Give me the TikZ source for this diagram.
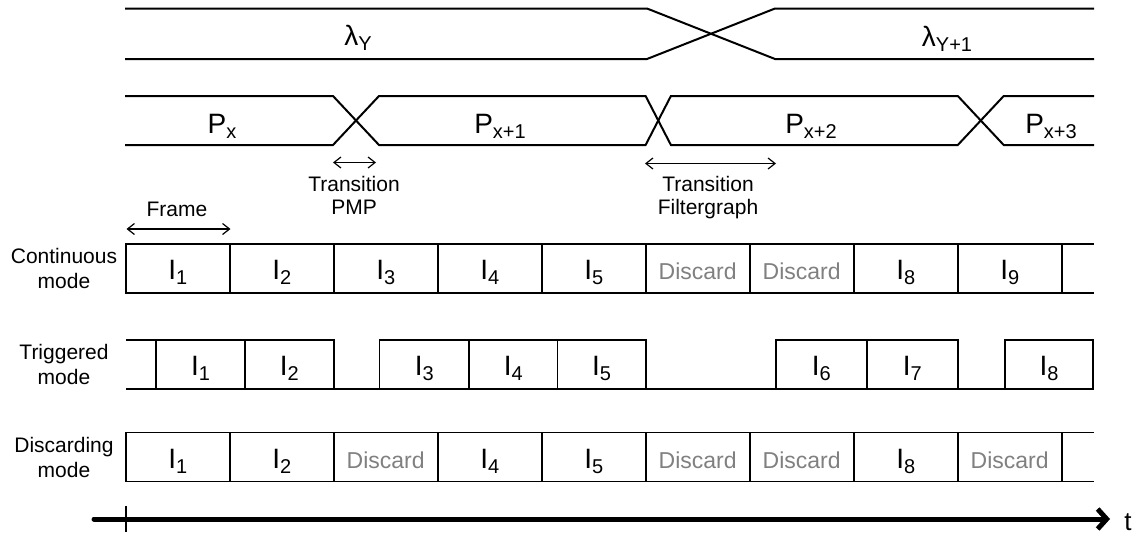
\documentclass[tikz,border=0pt]{standalone}
\usepackage{fontspec}
\setmainfont{Liberation Sans}
\usetikzlibrary{arrows.meta}
\definecolor{discardgray}{RGB}{128,128,128}
% lowered, smaller index text
\newcommand\idx[1]{\raisebox{-5pt}{\fontsize{20}{20}\selectfont #1}}
\begin{document}
\begin{tikzpicture}[x=1pt,y=-1pt,
  band/.style={line width=2pt, line join=miter},
  boxline/.style={line width=1.6pt},
  frm/.style={draw, line width=1.6pt, minimum height=49pt, inner sep=0pt, outer sep=0pt,
    text height=22pt, text depth=0pt, font=\fontsize{28}{28}\selectfont},
  disc/.style={text=discardgray, font=\fontsize{23}{23}\selectfont},
  biglbl/.style={anchor=base, inner sep=0pt, font=\fontsize{28}{28}\selectfont},
  rowlbl/.style={anchor=north, inner sep=0pt, align=center,
    font=\fontsize{21}{25}\selectfont},
  smalllbl/.style={anchor=north, inner sep=0pt, align=center,
    font=\fontsize{21}{23}\selectfont},
  span/.style={{Straight Barb[length=7pt,width=11pt]}-{Straight Barb[length=7pt,width=11pt]},
    line width=1.2pt}]
\useasboundingbox (0,0) rectangle (1142,536);

% wavelength band
\draw[band] (125,8.5) -- (647,8.5) -- (775,59) -- (1094,59);
\draw[band] (125,59) -- (647,59) -- (775,8.5) -- (1094,8.5);
\node[biglbl] (lamY) at (358,45) {λ\idx{Y}};
\node[biglbl] (lamY1) at (947,46) {λ\idx{Y+1}};

% pattern band
\draw[band] (125,96) -- (333,96) -- (379,145) -- (645.6,145) -- (670.9,96)
  -- (957.8,96) -- (1003.7,145) -- (1094,145);
\draw[band] (125,145) -- (333,145) -- (379,96) -- (645.6,96) -- (670.9,145)
  -- (957.8,145) -- (1003.7,96) -- (1094,96);
\node[biglbl] (p0) at (222,133) {P\idx{x}};
\node[biglbl] (p1) at (500,133) {P\idx{x+1}};
\node[biglbl] (p2) at (811,133) {P\idx{x+2}};
\node[biglbl] (p3) at (1051,133) {P\idx{x+3}};

% transition spans
\coordinate (pmpA) at (333,162.5);
\coordinate (pmpB) at (376,162.5);
\draw[span] (pmpA) -- (pmpB);
\node[smalllbl] (pmp) at (354,176.5) {Transition\\PMP};
\coordinate (fgA) at (645,163.5);
\coordinate (fgB) at (776,163.5);
\draw[span] (fgA) -- (fgB);
\node[smalllbl] (fg) at (708,176.5) {Transition\\Filtergraph};

% frame span
\coordinate (frA) at (126.5,229);
\coordinate (frB) at (230.5,229);
\draw[span] (frA) -- (frB);
\node[anchor=base, inner sep=0pt, font=\fontsize{21}{21}\selectfont] (frame) at (177,216.7) {Frame};

% continuous mode
\node[rowlbl] (lc) at (64,248.3) {Continuous\\mode};
\node[frm, minimum width=104pt] (c1) at (177.7,268.7) {I\idx{1}};
\node[frm, minimum width=104pt] (c2) at (281.7,268.7) {I\idx{2}};
\node[frm, minimum width=104pt] (c3) at (385.7,268.7) {I\idx{3}};
\node[frm, minimum width=104pt] (c4) at (489.7,268.7) {I\idx{4}};
\node[frm, minimum width=104pt] (c5) at (593.7,268.7) {I\idx{5}};
\node[frm, minimum width=104pt, disc] (c6) at (697.7,268.7) {Discard};
\node[frm, minimum width=104pt, disc] (c7) at (801.7,268.7) {Discard};
\node[frm, minimum width=104pt] (c8) at (905.7,268.7) {I\idx{8}};
\node[frm, minimum width=104pt] (c9) at (1009.7,268.7) {I\idx{9}};
\draw[boxline] (c9.north east) -- ++(32.3,0);
\draw[boxline] (c9.south east) -- ++(32.3,0);

% triggered mode
\node[rowlbl] (lt) at (64,344.1) {Triggered\\mode};
\node[frm, minimum width=89pt] (t1) at (200.5,364.5) {I\idx{1}};
\node[frm, minimum width=88.7pt] (t2) at (289.35,364.5) {I\idx{2}};
\node[frm, minimum width=89.2pt] (t3) at (424.2,364.5) {I\idx{3}};
\node[frm, minimum width=88.8pt] (t4) at (513.2,364.5) {I\idx{4}};
\node[frm, minimum width=88.1pt] (t5) at (601.65,364.5) {I\idx{5}};
\node[frm, minimum width=90.7pt] (t6) at (821.35,364.5) {I\idx{6}};
\node[frm, minimum width=91pt] (t7) at (912.2,364.5) {I\idx{7}};
\node[frm, minimum width=88pt] (t8) at (1049,364.5) {I\idx{8}};
\draw[boxline] (t1.north west) -- ++(-30,0);
\draw[boxline] (t1.south west) -- ++(-30,0);
\draw[boxline] (t2.south east) -- (t3.south west);
\draw[boxline] (t5.south east) -- (t6.south west);
\draw[boxline] (t7.south east) -- (t8.south west);

% discarding mode
\node[rowlbl] (ld) at (64,436.6) {Discarding\\mode};
\node[frm, minimum width=104pt] (d1) at (177.7,457) {I\idx{1}};
\node[frm, minimum width=104pt] (d2) at (281.7,457) {I\idx{2}};
\node[frm, minimum width=104pt, disc] (d3) at (385.7,457) {Discard};
\node[frm, minimum width=104pt] (d4) at (489.7,457) {I\idx{4}};
\node[frm, minimum width=104pt] (d5) at (593.7,457) {I\idx{5}};
\node[frm, minimum width=104pt, disc] (d6) at (697.7,457) {Discard};
\node[frm, minimum width=104pt, disc] (d7) at (801.7,457) {Discard};
\node[frm, minimum width=104pt] (d8) at (905.7,457) {I\idx{8}};
\node[frm, minimum width=104pt, disc] (d9) at (1009.7,457) {Discard};
\draw[boxline] (d9.north east) -- ++(32.3,0);
\draw[boxline] (d9.south east) -- ++(32.3,0);

% time axis
\coordinate (ax0) at (94,519);
\coordinate (ax1) at (1110,519);
\draw[line width=5pt, line cap=round, -{Straight Barb[length=9pt,width=20pt]}] (ax0) -- (ax1);
\coordinate (tk0) at (125.7,506);
\coordinate (tk1) at (125.7,532);
\draw[line width=2pt] (tk0) -- (tk1);
\node[anchor=base, inner sep=0pt, font=\fontsize{26}{26}\selectfont] (tl) at (1128,530) {t};
\end{tikzpicture}
\end{document}
